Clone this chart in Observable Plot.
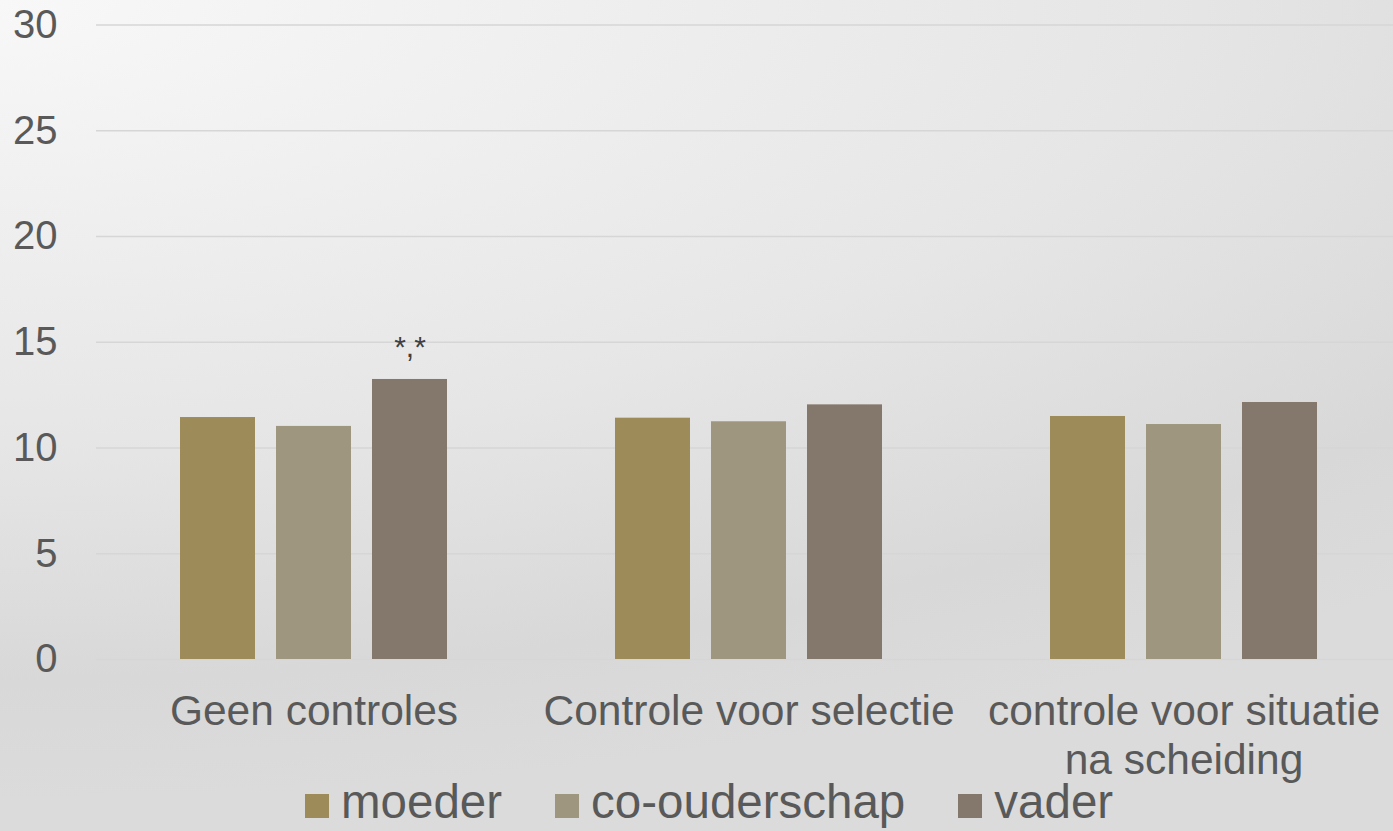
<!DOCTYPE html>
<html>
<head>
<meta charset="utf-8">
<script src="https://cdn.jsdelivr.net/npm/d3@7"></script>
<script src="https://cdn.jsdelivr.net/npm/@observablehq/plot@0.6"></script>
<style>
  html, body { margin: 0; padding: 0; }
  body {
    width: 1393px; height: 831px; overflow: hidden; position: relative;
    font-family: "Liberation Sans", Arial, sans-serif;
    background: radial-gradient(ellipse 2100px 800px at 0 0, #f8f8f8 0%, #e6e6e6 55%, #d8d8d8 85%, #dbdbdb 100%);
  }
  #chart { position: absolute; left: 0; top: 0; }
  #legend {
    position: absolute; left: 305px; top: 778px; height: 53px;
    font-size: 47.5px; line-height: 48px; color: #595959;
    white-space: nowrap;
  }
  #legend .item { display: inline-block; margin-right: 53px; }
  #legend .sw { display: inline-block; width: 24px; height: 24px; margin-right: 12px; vertical-align: baseline; }
</style>
</head>
<body>
<div id="chart"></div>
<div id="legend"></div>
<script>
const groups = ["Geen controles", "Controle voor selectie", "controle voor situatie na scheiding"];
const series = ["moeder", "co-ouderschap", "vader"];
const moeder = [11.44, 11.41, 11.49];
const coOuderschap = [11.02, 11.24, 11.11];
const vader = [13.24, 12.04, 12.15];
const colors = ["#9d8b5a", "#9e967e", "#84776c"];
const yTicks = [0, 5, 10, 15, 20, 25, 30];
const annotations = [{group: "Geen controles", series: "vader", label: "*,*"}];

const valuesBySeries = [moeder, coOuderschap, vader];
const data = [];
groups.forEach((g, gi) => series.forEach((s, si) => data.push({group: g, series: s, value: valuesBySeries[si][gi]})));
const annData = annotations.map(a => ({...a, value: data.find(d => d.group === a.group && d.series === a.series).value}));
const wrap = g => g.replace("situatie na", "situatie\nna");

const plot = Plot.plot({
  width: 1393,
  height: 831,
  marginLeft: 96,
  marginRight: -8,
  marginTop: 24.5,
  marginBottom: 172,
  style: {background: "transparent", fontFamily: "Liberation Sans, Arial, sans-serif", fontSize: "40px", color: "#595959", overflow: "visible"},
  fx: {domain: groups, padding: 0, axis: null},
  x: {domain: series, paddingInner: 0.215, paddingOuter: 0.85, axis: null},
  y: {domain: [0, 30], ticks: yTicks, tickSize: 0, tickPadding: 39, label: null, tickFormat: d => d},
  color: {domain: series, range: colors},
  marks: [
    Plot.ruleY(yTicks, {stroke: "#d6d6d6", strokeWidth: 1.5}),
    Plot.barY(data, {fx: "group", x: "series", y: "value", fill: "series"}),
    Plot.text(annData, {fx: "group", x: "series", y: "value", text: "label", dy: -22, lineAnchor: "bottom", fontSize: 30, fill: "#404040"}),
    Plot.text(groups, {fx: d => d, text: d => wrap(d), frameAnchor: "bottom", lineAnchor: "top", dy: 31, lineHeight: 1.15, fontSize: 42.5, fill: "#595959"})
  ]
});
document.getElementById("chart").appendChild(plot);

const legend = document.getElementById("legend");
series.forEach((s, i) => {
  const item = document.createElement("span");
  item.className = "item";
  const sw = document.createElement("span");
  sw.className = "sw";
  sw.style.background = colors[i];
  item.appendChild(sw);
  item.appendChild(document.createTextNode(s));
  legend.appendChild(item);
});
</script>
</body>
</html>
